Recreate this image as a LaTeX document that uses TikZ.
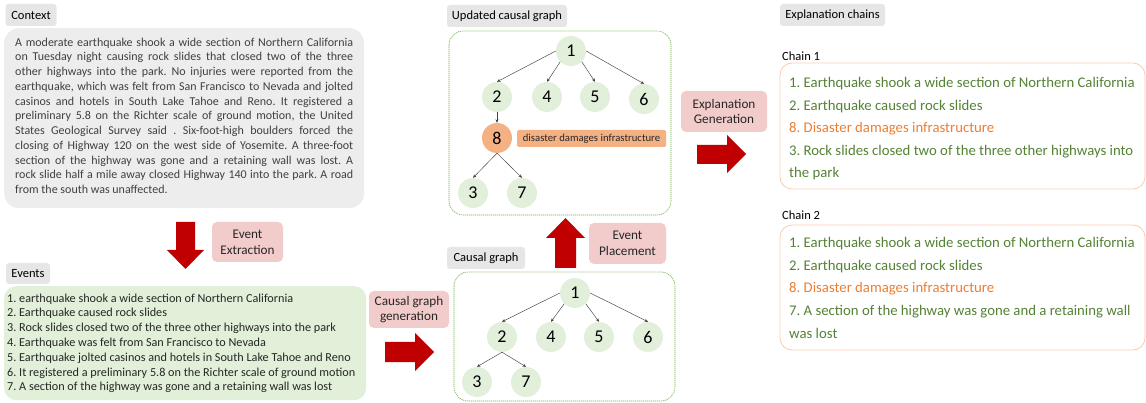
\documentclass[tikz,border=0pt]{standalone}
\usepackage{fontspec}
\setmainfont{Carlito}
\frenchspacing
\usetikzlibrary{arrows.meta}
\definecolor{lblgray}{HTML}{E7E6E6}
\definecolor{ctxgray}{HTML}{EDEDED}
\definecolor{evgreen}{HTML}{E2F0D9}
\definecolor{nodegreen}{HTML}{E2EFDA}
\definecolor{pinkbox}{HTML}{F2CBCB}
\definecolor{bigred}{HTML}{C00000}
\definecolor{orangenode}{HTML}{F4B183}
\definecolor{orangetext}{HTML}{ED7D31}
\definecolor{greentext}{HTML}{548235}
\definecolor{chainborder}{HTML}{F8CBAD}
\definecolor{dashgreen}{HTML}{70AD47}
\definecolor{ctxtext}{HTML}{404040}
\definecolor{edgegray}{HTML}{404040}
\begin{document}
\begin{tikzpicture}[x=1pt,y=-1pt,
  lbl/.style={fill=lblgray, rounded corners=3pt, inner sep=0pt, font=\fontsize{12.5}{14}\selectfont, text=black},
  pinkstep/.style={fill=pinkbox, rounded corners=5pt, inner sep=0pt, align=center, font=\fontsize{13.2}{16}\selectfont, text=black!85},
  gnode/.style={circle, fill=nodegreen, minimum size=30pt, inner sep=0pt, font=\fontsize{18}{20}\selectfont},
  onode/.style={gnode, fill=orangenode},
  edge/.style={draw=edgegray, line width=0.45pt, -{Stealth[length=3.5pt,width=3pt]}},
  dashbox/.style={draw=dashgreen, line width=0.6pt, dash pattern=on 1.2pt off 0.8pt, rounded corners=14pt},
  chainbox/.style={draw=chainborder, line width=0.8pt, rounded corners=12pt},
  bigarrow/.style={fill=bigred},
  chainline/.style={anchor=base west, inner sep=0pt, font=\fontsize{14.75}{17}\selectfont},
]
\useasboundingbox (0,0) rectangle (1146,403);

% ---------------- Context ----------------
\node[lbl, minimum width=51pt, minimum height=22pt] (ctxlbl) at (31,15) {Context};
\node[fill=ctxgray, rounded corners=15pt, minimum width=360pt, minimum height=180pt, anchor=north west, inner sep=0pt] (ctxbox) at (4,28) {};
\node[anchor=north west, inner sep=0pt, text width=338pt, align=justify, text=ctxtext,
      font=\fontsize{12}{14.75}\selectfont] (ctxtxt) at (15,37.5)
 {\hyphenpenalty=10000 A moderate earthquake shook a wide section of Northern California\linebreak
  on Tuesday night causing rock slides that closed two of the three\linebreak
  other highways into the park. No injuries were reported from the\linebreak
  earthquake, which was felt from San Francisco to Nevada and jolted\linebreak
  casinos and hotels in South Lake Tahoe and Reno. It registered a\linebreak
  preliminary 5.8 on the Richter scale of ground motion, the United\linebreak
  States Geological Survey said . Six-foot-high boulders forced the\linebreak
  closing of Highway 120 on the west side of Yosemite. A three-foot\linebreak
  section of the highway was gone and a retaining wall was lost. A\linebreak
  rock slide half a mile away closed Highway 140 into the park. A road\linebreak
  from the south was unaffected.};

% ---------------- Event extraction ----------------
\fill[bigarrow] (176,222) -- (195,222) -- (195,250) -- (204,250) -- (185.5,269) -- (167,250) -- (176,250) -- cycle;
\node[pinkstep, minimum width=71pt, minimum height=40pt] (extr) at (247.5,242) {Event\\Extraction};

% ---------------- Events ----------------
\node[lbl, minimum width=44pt, minimum height=21pt] (evlbl) at (28,273.5) {Events};
\node[fill=evgreen, rounded corners=12pt, minimum width=362pt, minimum height=114pt, anchor=north west, inner sep=0pt] (evbox) at (4,286) {};
\node[anchor=north west, inner sep=0pt, align=left, text=black!85,
      font=\fontsize{12.2}{14.8}\selectfont] (evtxt) at (7,293.5)
 {1. earthquake shook a wide section of Northern California\\
  2. Earthquake caused rock slides\\
  3. Rock slides closed two of the three other highways into the park\\
  4. Earthquake was felt from San Francisco to Nevada\\
  5. Earthquake jolted casinos and hotels in South Lake Tahoe and Reno\\
  6. It registered a preliminary 5.8 on the Richter scale of ground motion\\
  7. A section of the highway was gone and a retaining wall was lost};

% ---------------- Causal graph generation ----------------
\node[pinkstep, minimum width=80pt, minimum height=37pt, font=\fontsize{13.2}{15}\selectfont] (cgen) at (409,309.5) {Causal graph\\generation};
\fill[bigarrow] (385,342) -- (415,342) -- (415,333) -- (434,352) -- (415,371) -- (415,362) -- (385,362) -- cycle;

% ---------------- Causal graph ----------------
\node[lbl, minimum width=78pt, minimum height=22pt] (cglbl) at (486,258) {Causal graph};
\draw[dashbox] (454,272) rectangle (675,401);
\node[gnode] (a1) at (575,293) {1};
\node[gnode] (a2) at (502,337) {2};
\node[gnode] (a4) at (551,337) {4};
\node[gnode] (a5) at (599,337) {5};
\node[gnode] (a6) at (648,337) {6};
\node[gnode] (a3) at (477,382) {3};
\node[gnode] (a7) at (526,382) {7};
\draw[edge] (a1.west) -- (a2.north);
\draw[edge] (a1.south west) -- (a4.north);
\draw[edge] (a1.south east) -- (a5.north);
\draw[edge] (a1.east) -- (a6.north);
\draw[edge] (a2.south) -- (a3.north);
\draw[edge] (a2.south) -- (a7.north);

% ---------------- Event placement ----------------
\fill[bigarrow] (555,268) -- (555,238) -- (546,238) -- (565.5,218) -- (585,238) -- (576,238) -- (576,268) -- cycle;
\node[pinkstep, minimum width=77pt, minimum height=41pt] (place) at (627.5,243.5) {Event\\Placement};

% ---------------- Updated causal graph ----------------
\node[lbl, minimum width=120pt, minimum height=22pt] (uglbl) at (507,16) {Updated causal graph};
\draw[dashbox] (449,31) rectangle (671,215);
\node[gnode] (b1) at (571,51) {1};
\node[gnode] (b2) at (497,97) {2};
\node[gnode] (b4) at (547,97) {4};
\node[gnode] (b5) at (595,97) {5};
\node[gnode] (b6) at (644,99) {6};
\node[onode] (b8) at (497,138) {8};
\node[gnode] (b3) at (473,193) {3};
\node[gnode] (b7) at (522,193) {7};
\node[fill=orangenode, inner sep=0pt, minimum width=149pt, minimum height=17pt, rounded corners=1.5pt,
      font=\fontsize{10.7}{12}\selectfont, text=black!85] (b8lbl) at (591.5,138.5) {disaster damages infrastructure};
\draw[edge] (b1.west) -- (b2.north);
\draw[edge] (b1.south west) -- (b4.north);
\draw[edge] (b1.south east) -- (b5.north);
\draw[edge] (b1.east) -- (b6.north);
\draw[edge] (b2.south) -- (b8.north);
\draw[edge] (b8.south) -- (b3.north);
\draw[edge] (b8.south) -- (b7.north);

% ---------------- Explanation generation ----------------
\node[pinkstep, minimum width=86pt, minimum height=41pt, font=\fontsize{13.2}{15}\selectfont] (egen) at (724,111.5) {Explanation\\Generation};
\fill[bigarrow] (697,145) -- (727,145) -- (727,135) -- (746,154) -- (727,173) -- (727,164) -- (697,164) -- cycle;

% ---------------- Explanation chains ----------------
\node[lbl, minimum width=105pt, minimum height=22pt] (exlbl) at (832.5,15) {Explanation chains};

\node[anchor=west, inner sep=0pt, font=\fontsize{12.5}{14}\selectfont] (ch1lbl) at (782,56) {Chain 1};
\draw[chainbox] (780,63) rectangle (1145,189);
\node[chainline, text=greentext] (c11) at (789,88) {1. Earthquake shook a wide section of Northern California};
\node[chainline, text=greentext] (c12) at (789,110.5) {2. Earthquake caused rock slides};
\node[chainline, text=orangetext] (c13) at (789,133) {8. Disaster damages infrastructure};
\node[chainline, text=greentext] (c14) at (789,155.5) {3. Rock slides closed two of the three other highways into};
\node[chainline, text=greentext] (c15) at (789,178) {the park};

\node[anchor=west, inner sep=0pt, font=\fontsize{12.5}{14}\selectfont] (ch2lbl) at (782,215) {Chain 2};
\draw[chainbox] (780,225) rectangle (1145,350);
\node[chainline, text=greentext] (c21) at (789,248) {1. Earthquake shook a wide section of Northern California};
\node[chainline, text=greentext] (c22) at (789,270.5) {2. Earthquake caused rock slides};
\node[chainline, text=orangetext] (c23) at (789,293) {8. Disaster damages infrastructure};
\node[chainline, text=greentext] (c24) at (789,315.5) {7. A section of the highway was gone and a retaining wall};
\node[chainline, text=greentext] (c25) at (789,338) {was lost};
\end{tikzpicture}
\end{document}
